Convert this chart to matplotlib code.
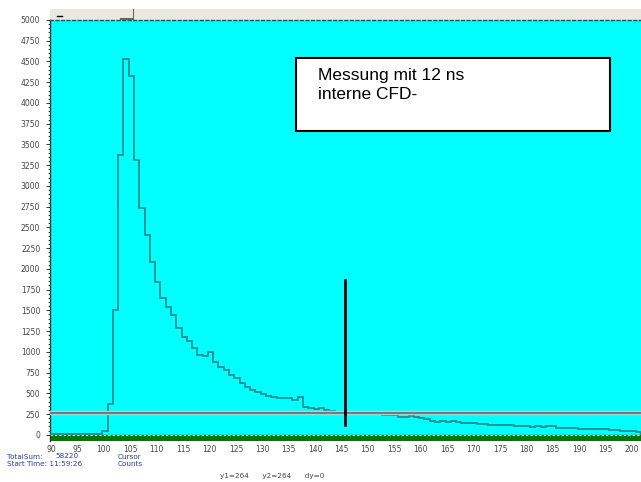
import numpy as np
import matplotlib.pyplot as plt

W, H = 641, 482

# channel histogram, 1-channel bins
start = 90.0
low_counts = [8, 6, 9, 7, 10, 8, 7, 9, 10]
counts = [12, 50, 370, 1500, 3370, 4535, 4325, 3310, 2730, 2410, 2080,
          1845, 1650, 1540, 1446, 1290, 1184, 1136, 1044, 964, 950,
          992, 883, 823, 775, 720, 680, 630, 580, 545, 515,
          490, 465, 452, 442, 445, 440, 425, 450, 333, 321,
          310, 320, 300, 285, 275, 270, 262, 265, 261, 258,
          252, 249, 246, 244, 240, 235, 220, 215, 222, 212,
          205, 185, 172, 160, 162, 158, 168, 160, 148, 146,
          140, 133, 130, 122, 118, 116, 118, 112, 105, 100,
          102, 98, 100, 96, 100, 105, 82, 80, 84, 78,
          70, 66, 68, 66, 72, 70, 55, 52, 50, 42,
          40, 38]
first_edge = 98.7

cursor_y = 264
cursor_x = 145.6
marker_top = 1870
marker_bottom = 120
total_sum = 58220

xticks = np.arange(90, 201, 5)
yticks = np.arange(0, 5001, 250)

fig = plt.figure(figsize=(W / 100, H / 100), dpi=100)
fig.patch.set_facecolor('white')

def px_axes(x0, y0, x1, y1):
    return fig.add_axes([x0 / W, 1 - y1 / H, (x1 - x0) / W, (y1 - y0) / H])

# ruler strip above the plot
rul = px_axes(50, 9, 641, 20)
rul.set_xlim(0, 1)
rul.set_ylim(0, 1)
rul.axis('off')
rul.add_patch(plt.Rectangle((0, 0), 1, 1, color='#ebe8e2', transform=rul.transAxes))
rul.plot([0.012, 0.02], [0.35, 0.35], color='black', lw=1)
rul.plot([0.12, 0.14], [0.1, 0.1], color='#666666', lw=1.5)
rul.plot([0.14, 0.14], [0.1, 1.0], color='#666666', lw=0.8)

ax = px_axes(50, 20, 641, 441)
ax.set_facecolor('#00ffff')
ax.set_xlim(89.8, 201.7)
ax.set_ylim(-75, 5000)

ax.axhspan(-75, 0, color='#007a00', zorder=1)
ax.axhline(0, color='white', lw=0.8, ls=(0, (2, 2)), zorder=2)

low_edges = start + np.arange(len(low_counts) + 1) * (first_edge - start) / len(low_counts)
ax.stairs(low_counts, low_edges, color='#1f8f90', lw=1.3, zorder=3)
edges = first_edge + np.arange(len(counts) + 1)
ax.stairs(counts, edges, color='#1f8f90', lw=1.3, zorder=3)

ax.axhline(cursor_y, color='#b8cccc', lw=3.2, zorder=4)
ax.axhline(cursor_y, color='#6a7474', lw=1.3, zorder=5)
ax.plot([cursor_x, cursor_x], [marker_bottom, marker_top], color='black', lw=2, zorder=6)

ax.set_xticks(xticks)
ax.set_xticklabels([str(v) for v in xticks])
ax.set_yticks(yticks)
ax.set_yticklabels([str(v) for v in yticks])
ax.set_yticks(np.arange(0, 5001, 50), minor=True)
ax.tick_params(axis='x', length=0, labelsize=5.5, labelcolor='#444444', pad=3)
ax.tick_params(axis='y', which='major', length=3, width=0.7, color='#333333',
               labelsize=5.5, labelcolor='#444444', pad=4)
ax.tick_params(axis='y', which='minor', length=1.5, width=0.6, color='#333333')

for side in ('right', 'bottom'):
    ax.spines[side].set_visible(False)
ax.spines['left'].set_color('#333333')
ax.spines['left'].set_linewidth(1.0)
ax.spines['top'].set_color('#2a4a4a')
ax.spines['top'].set_linewidth(1.0)
ax.spines['top'].set_linestyle((0, (2, 2)))

# annotation box
ax.text(0.454, 0.845, 'Messung mit 12 ns\ninterne CFD-', transform=ax.transAxes,
        family='Liberation Sans', fontsize=12.5, linespacing=1.35, va='center', ha='left',
        zorder=8)
box = plt.Rectangle(((296 - 50) / 591, 1 - (131 - 20) / 421), (610 - 296) / 591, (131 - 58) / 421,
                    transform=ax.transAxes, facecolor='white', edgecolor='black', lw=1.5, zorder=7)
ax.add_patch(box)

# status text under the plot
blue = '#2a3fa0'
small = dict(fontsize=5.2, family='DejaVu Sans')
fig.text(7 / W, 1 - 457 / H, 'TotalSum:', color=blue, va='center', **small)
fig.text(55 / W, 1 - 456 / H, str(total_sum), color=blue, va='center', **small)
fig.text(7 / W, 1 - 464 / H, 'Start Time: 11:59:26', color=blue, va='center', **small)
fig.text(118 / W, 1 - 457 / H, 'Cursor', color=blue, va='center', **small)
fig.text(118 / W, 1 - 464 / H, 'Counts', color=blue, va='center', **small)
fig.text(220 / W, 1 - 476 / H, f'y1={cursor_y}      y2={cursor_y}      dy=0',
         color='#444444', va='center', **small)

fig.savefig('out.png', dpi=100, facecolor='white')
